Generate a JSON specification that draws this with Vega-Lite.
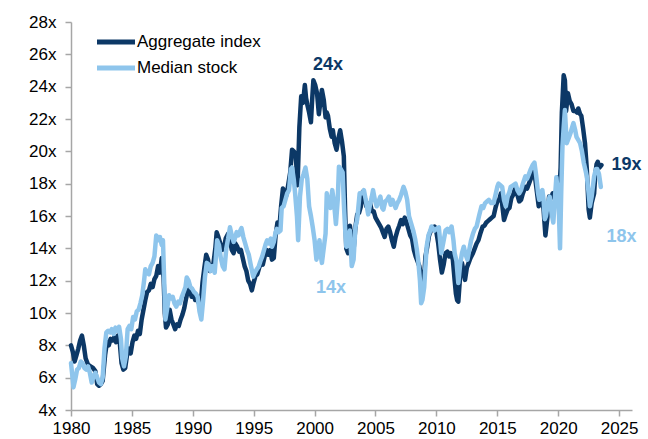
{
  "$schema": "https://vega.github.io/schema/vega-lite/v6.json",
  "width": 561,
  "height": 388,
  "autosize": {"type": "none"},
  "padding": {"left": 71, "top": 22, "right": 16, "bottom": 29},
  "background": "white",
  "config": {
    "view": {"stroke": null},
    "font": "Liberation Sans",
    "axis": {"grid": false, "labelFont": "Liberation Sans", "labelFontSize": 17, "labelColor": "#000000", "domainColor": "#A6A6A6", "tickColor": "#A6A6A6", "domainWidth": 1.5, "tickWidth": 1.5, "tickSize": 6, "title": null, "labelOverlap": false}
  },
  "datasets": {
    "pe": [
      {"year":1980.0,"series":"Aggregate index","pe":8.0},{"year":1980.15,"series":"Aggregate index","pe":7.6},{"year":1980.3,"series":"Aggregate index","pe":7.0},{"year":1980.45,"series":"Aggregate index","pe":7.4},{"year":1980.6,"series":"Aggregate index","pe":7.8},{"year":1980.75,"series":"Aggregate index","pe":8.3},{"year":1980.9,"series":"Aggregate index","pe":8.6},{"year":1981.05,"series":"Aggregate index","pe":8.0},{"year":1981.2,"series":"Aggregate index","pe":7.2},{"year":1981.4,"series":"Aggregate index","pe":6.8},{"year":1981.6,"series":"Aggregate index","pe":6.7},{"year":1981.8,"series":"Aggregate index","pe":6.6},{"year":1982.0,"series":"Aggregate index","pe":6.4},{"year":1982.15,"series":"Aggregate index","pe":5.6},{"year":1982.3,"series":"Aggregate index","pe":5.5},{"year":1982.45,"series":"Aggregate index","pe":5.6},{"year":1982.6,"series":"Aggregate index","pe":5.8},{"year":1982.8,"series":"Aggregate index","pe":7.4},{"year":1982.95,"series":"Aggregate index","pe":8.2},{"year":1983.1,"series":"Aggregate index","pe":8.0},{"year":1983.25,"series":"Aggregate index","pe":8.4},{"year":1983.4,"series":"Aggregate index","pe":8.3},{"year":1983.55,"series":"Aggregate index","pe":8.5},{"year":1983.7,"series":"Aggregate index","pe":8.2},{"year":1983.85,"series":"Aggregate index","pe":8.6},{"year":1984.0,"series":"Aggregate index","pe":8.2},{"year":1984.15,"series":"Aggregate index","pe":6.9},{"year":1984.3,"series":"Aggregate index","pe":6.5},{"year":1984.45,"series":"Aggregate index","pe":6.6},{"year":1984.6,"series":"Aggregate index","pe":7.4},{"year":1984.75,"series":"Aggregate index","pe":7.8},{"year":1984.9,"series":"Aggregate index","pe":7.5},{"year":1985.05,"series":"Aggregate index","pe":8.2},{"year":1985.2,"series":"Aggregate index","pe":8.6},{"year":1985.35,"series":"Aggregate index","pe":8.4},{"year":1985.5,"series":"Aggregate index","pe":8.9},{"year":1985.65,"series":"Aggregate index","pe":8.7},{"year":1985.8,"series":"Aggregate index","pe":9.6},{"year":1985.95,"series":"Aggregate index","pe":10.2},{"year":1986.1,"series":"Aggregate index","pe":10.8},{"year":1986.25,"series":"Aggregate index","pe":11.3},{"year":1986.4,"series":"Aggregate index","pe":11.4},{"year":1986.55,"series":"Aggregate index","pe":11.8},{"year":1986.7,"series":"Aggregate index","pe":11.6},{"year":1986.85,"series":"Aggregate index","pe":12.1},{"year":1987.0,"series":"Aggregate index","pe":12.3},{"year":1987.15,"series":"Aggregate index","pe":12.9},{"year":1987.3,"series":"Aggregate index","pe":12.5},{"year":1987.45,"series":"Aggregate index","pe":13.4},{"year":1987.6,"series":"Aggregate index","pe":12.2},{"year":1987.7,"series":"Aggregate index","pe":10.0},{"year":1987.8,"series":"Aggregate index","pe":9.1},{"year":1987.95,"series":"Aggregate index","pe":9.3},{"year":1988.1,"series":"Aggregate index","pe":10.2},{"year":1988.25,"series":"Aggregate index","pe":9.6},{"year":1988.4,"series":"Aggregate index","pe":9.3},{"year":1988.55,"series":"Aggregate index","pe":9.0},{"year":1988.7,"series":"Aggregate index","pe":9.3},{"year":1988.85,"series":"Aggregate index","pe":9.2},{"year":1989.0,"series":"Aggregate index","pe":9.6},{"year":1989.15,"series":"Aggregate index","pe":9.9},{"year":1989.3,"series":"Aggregate index","pe":10.3},{"year":1989.45,"series":"Aggregate index","pe":10.9},{"year":1989.6,"series":"Aggregate index","pe":11.4},{"year":1989.75,"series":"Aggregate index","pe":11.5},{"year":1989.9,"series":"Aggregate index","pe":11.0},{"year":1990.05,"series":"Aggregate index","pe":11.2},{"year":1990.2,"series":"Aggregate index","pe":10.8},{"year":1990.35,"series":"Aggregate index","pe":10.9},{"year":1990.5,"series":"Aggregate index","pe":10.6},{"year":1990.65,"series":"Aggregate index","pe":10.5},{"year":1990.8,"series":"Aggregate index","pe":11.9},{"year":1990.95,"series":"Aggregate index","pe":12.8},{"year":1991.1,"series":"Aggregate index","pe":13.6},{"year":1991.25,"series":"Aggregate index","pe":13.3},{"year":1991.4,"series":"Aggregate index","pe":12.6},{"year":1991.55,"series":"Aggregate index","pe":12.7},{"year":1991.7,"series":"Aggregate index","pe":13.1},{"year":1991.85,"series":"Aggregate index","pe":14.0},{"year":1991.96,"series":"Aggregate index","pe":15.0},{"year":1992.1,"series":"Aggregate index","pe":14.7},{"year":1992.25,"series":"Aggregate index","pe":14.3},{"year":1992.4,"series":"Aggregate index","pe":13.9},{"year":1992.55,"series":"Aggregate index","pe":14.0},{"year":1992.7,"series":"Aggregate index","pe":14.6},{"year":1992.9,"series":"Aggregate index","pe":14.9},{"year":1993.05,"series":"Aggregate index","pe":14.5},{"year":1993.2,"series":"Aggregate index","pe":13.9},{"year":1993.35,"series":"Aggregate index","pe":13.7},{"year":1993.5,"series":"Aggregate index","pe":14.3},{"year":1993.65,"series":"Aggregate index","pe":14.1},{"year":1993.8,"series":"Aggregate index","pe":13.8},{"year":1993.95,"series":"Aggregate index","pe":13.9},{"year":1994.1,"series":"Aggregate index","pe":13.4},{"year":1994.25,"series":"Aggregate index","pe":12.9},{"year":1994.4,"series":"Aggregate index","pe":12.6},{"year":1994.55,"series":"Aggregate index","pe":12.0},{"year":1994.7,"series":"Aggregate index","pe":11.8},{"year":1994.85,"series":"Aggregate index","pe":11.4},{"year":1995.0,"series":"Aggregate index","pe":11.9},{"year":1995.15,"series":"Aggregate index","pe":12.3},{"year":1995.3,"series":"Aggregate index","pe":12.4},{"year":1995.45,"series":"Aggregate index","pe":12.8},{"year":1995.6,"series":"Aggregate index","pe":13.1},{"year":1995.75,"series":"Aggregate index","pe":13.0},{"year":1995.9,"series":"Aggregate index","pe":13.5},{"year":1996.05,"series":"Aggregate index","pe":13.9},{"year":1996.2,"series":"Aggregate index","pe":13.6},{"year":1996.35,"series":"Aggregate index","pe":13.9},{"year":1996.5,"series":"Aggregate index","pe":13.3},{"year":1996.65,"series":"Aggregate index","pe":13.4},{"year":1996.8,"series":"Aggregate index","pe":14.8},{"year":1996.95,"series":"Aggregate index","pe":15.6},{"year":1997.1,"series":"Aggregate index","pe":15.2},{"year":1997.25,"series":"Aggregate index","pe":16.6},{"year":1997.4,"series":"Aggregate index","pe":17.7},{"year":1997.55,"series":"Aggregate index","pe":17.4},{"year":1997.7,"series":"Aggregate index","pe":17.3},{"year":1997.85,"series":"Aggregate index","pe":18.0},{"year":1998.0,"series":"Aggregate index","pe":18.7},{"year":1998.15,"series":"Aggregate index","pe":20.1},{"year":1998.3,"series":"Aggregate index","pe":20.0},{"year":1998.45,"series":"Aggregate index","pe":19.8},{"year":1998.6,"series":"Aggregate index","pe":17.9},{"year":1998.75,"series":"Aggregate index","pe":21.5},{"year":1998.9,"series":"Aggregate index","pe":23.4},{"year":1999.05,"series":"Aggregate index","pe":23.0},{"year":1999.2,"series":"Aggregate index","pe":24.1},{"year":1999.3,"series":"Aggregate index","pe":23.3},{"year":1999.4,"series":"Aggregate index","pe":22.9},{"year":1999.55,"series":"Aggregate index","pe":22.4},{"year":1999.7,"series":"Aggregate index","pe":21.8},{"year":1999.8,"series":"Aggregate index","pe":23.2},{"year":1999.9,"series":"Aggregate index","pe":24.4},{"year":2000.05,"series":"Aggregate index","pe":24.1},{"year":2000.2,"series":"Aggregate index","pe":23.6},{"year":2000.35,"series":"Aggregate index","pe":22.3},{"year":2000.5,"series":"Aggregate index","pe":23.2},{"year":2000.6,"series":"Aggregate index","pe":23.8},{"year":2000.75,"series":"Aggregate index","pe":23.2},{"year":2000.9,"series":"Aggregate index","pe":22.1},{"year":2001.0,"series":"Aggregate index","pe":22.4},{"year":2001.1,"series":"Aggregate index","pe":22.2},{"year":2001.25,"series":"Aggregate index","pe":21.4},{"year":2001.4,"series":"Aggregate index","pe":20.9},{"year":2001.5,"series":"Aggregate index","pe":21.3},{"year":2001.65,"series":"Aggregate index","pe":20.5},{"year":2001.8,"series":"Aggregate index","pe":20.1},{"year":2001.95,"series":"Aggregate index","pe":20.8},{"year":2002.1,"series":"Aggregate index","pe":21.3},{"year":2002.25,"series":"Aggregate index","pe":20.6},{"year":2002.4,"series":"Aggregate index","pe":19.7},{"year":2002.5,"series":"Aggregate index","pe":16.5},{"year":2002.6,"series":"Aggregate index","pe":14.0},{"year":2002.75,"series":"Aggregate index","pe":13.7},{"year":2002.9,"series":"Aggregate index","pe":15.4},{"year":2003.05,"series":"Aggregate index","pe":14.6},{"year":2003.2,"series":"Aggregate index","pe":13.9},{"year":2003.35,"series":"Aggregate index","pe":15.3},{"year":2003.5,"series":"Aggregate index","pe":16.1},{"year":2003.65,"series":"Aggregate index","pe":16.2},{"year":2003.8,"series":"Aggregate index","pe":16.6},{"year":2003.95,"series":"Aggregate index","pe":17.5},{"year":2004.1,"series":"Aggregate index","pe":17.2},{"year":2004.25,"series":"Aggregate index","pe":16.6},{"year":2004.4,"series":"Aggregate index","pe":16.5},{"year":2004.55,"series":"Aggregate index","pe":16.8},{"year":2004.7,"series":"Aggregate index","pe":16.3},{"year":2004.85,"series":"Aggregate index","pe":16.3},{"year":2005.0,"series":"Aggregate index","pe":15.9},{"year":2005.15,"series":"Aggregate index","pe":15.7},{"year":2005.3,"series":"Aggregate index","pe":15.5},{"year":2005.45,"series":"Aggregate index","pe":15.3},{"year":2005.6,"series":"Aggregate index","pe":15.0},{"year":2005.75,"series":"Aggregate index","pe":14.7},{"year":2005.9,"series":"Aggregate index","pe":15.2},{"year":2006.05,"series":"Aggregate index","pe":15.35},{"year":2006.2,"series":"Aggregate index","pe":15.0},{"year":2006.35,"series":"Aggregate index","pe":14.5},{"year":2006.5,"series":"Aggregate index","pe":14.1},{"year":2006.65,"series":"Aggregate index","pe":14.7},{"year":2006.8,"series":"Aggregate index","pe":15.1},{"year":2006.95,"series":"Aggregate index","pe":15.4},{"year":2007.1,"series":"Aggregate index","pe":15.75},{"year":2007.25,"series":"Aggregate index","pe":15.5},{"year":2007.4,"series":"Aggregate index","pe":15.9},{"year":2007.55,"series":"Aggregate index","pe":15.6},{"year":2007.7,"series":"Aggregate index","pe":15.2},{"year":2007.85,"series":"Aggregate index","pe":14.8},{"year":2008.0,"series":"Aggregate index","pe":14.6},{"year":2008.15,"series":"Aggregate index","pe":13.9},{"year":2008.3,"series":"Aggregate index","pe":13.5},{"year":2008.45,"series":"Aggregate index","pe":13.2},{"year":2008.6,"series":"Aggregate index","pe":12.9},{"year":2008.7,"series":"Aggregate index","pe":12.4},{"year":2008.8,"series":"Aggregate index","pe":11.6},{"year":2008.9,"series":"Aggregate index","pe":11.65},{"year":2009.0,"series":"Aggregate index","pe":12.3},{"year":2009.1,"series":"Aggregate index","pe":13.5},{"year":2009.25,"series":"Aggregate index","pe":14.1},{"year":2009.4,"series":"Aggregate index","pe":14.8},{"year":2009.55,"series":"Aggregate index","pe":15.1},{"year":2009.7,"series":"Aggregate index","pe":15.2},{"year":2009.85,"series":"Aggregate index","pe":15.35},{"year":2010.0,"series":"Aggregate index","pe":15.0},{"year":2010.15,"series":"Aggregate index","pe":14.3},{"year":2010.3,"series":"Aggregate index","pe":13.3},{"year":2010.45,"series":"Aggregate index","pe":12.5},{"year":2010.6,"series":"Aggregate index","pe":13.0},{"year":2010.75,"series":"Aggregate index","pe":13.7},{"year":2010.9,"series":"Aggregate index","pe":13.8},{"year":2011.05,"series":"Aggregate index","pe":13.5},{"year":2011.2,"series":"Aggregate index","pe":13.7},{"year":2011.35,"series":"Aggregate index","pe":13.3},{"year":2011.5,"series":"Aggregate index","pe":12.0},{"year":2011.6,"series":"Aggregate index","pe":11.2},{"year":2011.7,"series":"Aggregate index","pe":10.8},{"year":2011.8,"series":"Aggregate index","pe":10.7},{"year":2011.95,"series":"Aggregate index","pe":12.3},{"year":2012.1,"series":"Aggregate index","pe":13.1},{"year":2012.25,"series":"Aggregate index","pe":12.5},{"year":2012.35,"series":"Aggregate index","pe":12.05},{"year":2012.5,"series":"Aggregate index","pe":12.8},{"year":2012.65,"series":"Aggregate index","pe":13.1},{"year":2012.8,"series":"Aggregate index","pe":13.4},{"year":2013.0,"series":"Aggregate index","pe":13.7},{"year":2013.15,"series":"Aggregate index","pe":14.0},{"year":2013.3,"series":"Aggregate index","pe":14.3},{"year":2013.45,"series":"Aggregate index","pe":14.5},{"year":2013.6,"series":"Aggregate index","pe":14.9},{"year":2013.8,"series":"Aggregate index","pe":15.35},{"year":2013.95,"series":"Aggregate index","pe":15.4},{"year":2014.1,"series":"Aggregate index","pe":15.6},{"year":2014.25,"series":"Aggregate index","pe":15.7},{"year":2014.4,"series":"Aggregate index","pe":15.8},{"year":2014.55,"series":"Aggregate index","pe":15.9},{"year":2014.7,"series":"Aggregate index","pe":16.0},{"year":2014.85,"series":"Aggregate index","pe":16.5},{"year":2015.0,"series":"Aggregate index","pe":16.9},{"year":2015.15,"series":"Aggregate index","pe":17.0},{"year":2015.3,"series":"Aggregate index","pe":17.4},{"year":2015.45,"series":"Aggregate index","pe":16.4},{"year":2015.55,"series":"Aggregate index","pe":15.75},{"year":2015.7,"series":"Aggregate index","pe":16.1},{"year":2015.85,"series":"Aggregate index","pe":16.4},{"year":2016.0,"series":"Aggregate index","pe":16.5},{"year":2016.15,"series":"Aggregate index","pe":17.1},{"year":2016.3,"series":"Aggregate index","pe":17.3},{"year":2016.5,"series":"Aggregate index","pe":17.8},{"year":2016.65,"series":"Aggregate index","pe":17.3},{"year":2016.8,"series":"Aggregate index","pe":16.9},{"year":2016.95,"series":"Aggregate index","pe":17.0},{"year":2017.1,"series":"Aggregate index","pe":17.4},{"year":2017.3,"series":"Aggregate index","pe":17.8},{"year":2017.45,"series":"Aggregate index","pe":17.7},{"year":2017.6,"series":"Aggregate index","pe":18.0},{"year":2017.75,"series":"Aggregate index","pe":18.3},{"year":2017.95,"series":"Aggregate index","pe":19.0},{"year":2018.1,"series":"Aggregate index","pe":18.4},{"year":2018.25,"series":"Aggregate index","pe":17.5},{"year":2018.4,"series":"Aggregate index","pe":16.6},{"year":2018.55,"series":"Aggregate index","pe":17.3},{"year":2018.7,"series":"Aggregate index","pe":17.0},{"year":2018.8,"series":"Aggregate index","pe":16.4},{"year":2018.95,"series":"Aggregate index","pe":14.8},{"year":2019.1,"series":"Aggregate index","pe":15.8},{"year":2019.25,"series":"Aggregate index","pe":17.2},{"year":2019.4,"series":"Aggregate index","pe":17.1},{"year":2019.55,"series":"Aggregate index","pe":17.4},{"year":2019.7,"series":"Aggregate index","pe":17.3},{"year":2019.85,"series":"Aggregate index","pe":17.6},{"year":2020.0,"series":"Aggregate index","pe":18.4},{"year":2020.1,"series":"Aggregate index","pe":17.6},{"year":2020.2,"series":"Aggregate index","pe":19.0},{"year":2020.3,"series":"Aggregate index","pe":22.4},{"year":2020.45,"series":"Aggregate index","pe":24.7},{"year":2020.55,"series":"Aggregate index","pe":24.4},{"year":2020.65,"series":"Aggregate index","pe":22.5},{"year":2020.8,"series":"Aggregate index","pe":23.6},{"year":2020.95,"series":"Aggregate index","pe":23.1},{"year":2021.1,"series":"Aggregate index","pe":22.9},{"year":2021.25,"series":"Aggregate index","pe":22.5},{"year":2021.4,"series":"Aggregate index","pe":22.5},{"year":2021.55,"series":"Aggregate index","pe":22.4},{"year":2021.65,"series":"Aggregate index","pe":22.65},{"year":2021.8,"series":"Aggregate index","pe":22.3},{"year":2021.9,"series":"Aggregate index","pe":22.2},{"year":2022.05,"series":"Aggregate index","pe":21.4},{"year":2022.2,"series":"Aggregate index","pe":20.5},{"year":2022.35,"series":"Aggregate index","pe":18.9},{"year":2022.5,"series":"Aggregate index","pe":16.4},{"year":2022.6,"series":"Aggregate index","pe":15.9},{"year":2022.75,"series":"Aggregate index","pe":16.8},{"year":2022.95,"series":"Aggregate index","pe":17.4},{"year":2023.05,"series":"Aggregate index","pe":18.6},{"year":2023.15,"series":"Aggregate index","pe":19.2},{"year":2023.25,"series":"Aggregate index","pe":19.35},{"year":2023.4,"series":"Aggregate index","pe":19.0},{"year":2023.55,"series":"Aggregate index","pe":19.15},
      {"year":1980.0,"series":"Median stock","pe":6.9},{"year":1980.1,"series":"Median stock","pe":6.2},{"year":1980.2,"series":"Median stock","pe":5.4},{"year":1980.35,"series":"Median stock","pe":5.9},{"year":1980.5,"series":"Median stock","pe":6.5},{"year":1980.65,"series":"Median stock","pe":6.6},{"year":1980.8,"series":"Median stock","pe":7.0},{"year":1980.95,"series":"Median stock","pe":6.9},{"year":1981.1,"series":"Median stock","pe":6.6},{"year":1981.25,"series":"Median stock","pe":6.5},{"year":1981.4,"series":"Median stock","pe":6.7},{"year":1981.55,"series":"Median stock","pe":6.3},{"year":1981.7,"series":"Median stock","pe":5.7},{"year":1981.85,"series":"Median stock","pe":6.1},{"year":1982.0,"series":"Median stock","pe":6.3},{"year":1982.15,"series":"Median stock","pe":6.0},{"year":1982.3,"series":"Median stock","pe":5.7},{"year":1982.45,"series":"Median stock","pe":5.6},{"year":1982.6,"series":"Median stock","pe":6.0},{"year":1982.75,"series":"Median stock","pe":7.8},{"year":1982.9,"series":"Median stock","pe":8.8},{"year":1983.05,"series":"Median stock","pe":8.9},{"year":1983.2,"series":"Median stock","pe":8.8},{"year":1983.35,"series":"Median stock","pe":9.0},{"year":1983.5,"series":"Median stock","pe":8.7},{"year":1983.65,"series":"Median stock","pe":9.1},{"year":1983.8,"series":"Median stock","pe":8.9},{"year":1983.95,"series":"Median stock","pe":9.15},{"year":1984.1,"series":"Median stock","pe":8.4},{"year":1984.2,"series":"Median stock","pe":7.2},{"year":1984.35,"series":"Median stock","pe":6.7},{"year":1984.5,"series":"Median stock","pe":7.3},{"year":1984.65,"series":"Median stock","pe":9.0},{"year":1984.8,"series":"Median stock","pe":9.2},{"year":1984.95,"series":"Median stock","pe":9.0},{"year":1985.1,"series":"Median stock","pe":9.75},{"year":1985.25,"series":"Median stock","pe":9.6},{"year":1985.4,"series":"Median stock","pe":10.1},{"year":1985.55,"series":"Median stock","pe":10.2},{"year":1985.7,"series":"Median stock","pe":10.6},{"year":1985.85,"series":"Median stock","pe":11.1},{"year":1986.0,"series":"Median stock","pe":12.0},{"year":1986.1,"series":"Median stock","pe":12.7},{"year":1986.25,"series":"Median stock","pe":12.5},{"year":1986.4,"series":"Median stock","pe":12.4},{"year":1986.55,"series":"Median stock","pe":12.9},{"year":1986.7,"series":"Median stock","pe":13.1},{"year":1986.85,"series":"Median stock","pe":13.5},{"year":1987.0,"series":"Median stock","pe":14.8},{"year":1987.15,"series":"Median stock","pe":14.5},{"year":1987.3,"series":"Median stock","pe":14.7},{"year":1987.45,"series":"Median stock","pe":14.2},{"year":1987.55,"series":"Median stock","pe":14.5},{"year":1987.65,"series":"Median stock","pe":12.0},{"year":1987.75,"series":"Median stock","pe":9.6},{"year":1987.9,"series":"Median stock","pe":10.3},{"year":1988.05,"series":"Median stock","pe":11.1},{"year":1988.2,"series":"Median stock","pe":10.9},{"year":1988.35,"series":"Median stock","pe":11.0},{"year":1988.5,"series":"Median stock","pe":10.6},{"year":1988.65,"series":"Median stock","pe":10.4},{"year":1988.8,"series":"Median stock","pe":10.7},{"year":1988.95,"series":"Median stock","pe":10.6},{"year":1989.1,"series":"Median stock","pe":11.0},{"year":1989.25,"series":"Median stock","pe":11.3},{"year":1989.4,"series":"Median stock","pe":11.6},{"year":1989.5,"series":"Median stock","pe":12.2},{"year":1989.65,"series":"Median stock","pe":12.0},{"year":1989.8,"series":"Median stock","pe":11.6},{"year":1989.95,"series":"Median stock","pe":11.5},{"year":1990.1,"series":"Median stock","pe":11.3},{"year":1990.25,"series":"Median stock","pe":11.2},{"year":1990.4,"series":"Median stock","pe":11.0},{"year":1990.55,"series":"Median stock","pe":10.1},{"year":1990.7,"series":"Median stock","pe":9.6},{"year":1990.85,"series":"Median stock","pe":10.8},{"year":1991.0,"series":"Median stock","pe":12.25},{"year":1991.15,"series":"Median stock","pe":13.1},{"year":1991.3,"series":"Median stock","pe":13.0},{"year":1991.45,"series":"Median stock","pe":12.6},{"year":1991.6,"series":"Median stock","pe":12.9},{"year":1991.8,"series":"Median stock","pe":12.5},{"year":1992.0,"series":"Median stock","pe":14.5},{"year":1992.15,"series":"Median stock","pe":14.2},{"year":1992.3,"series":"Median stock","pe":13.4},{"year":1992.45,"series":"Median stock","pe":12.9},{"year":1992.6,"series":"Median stock","pe":12.7},{"year":1992.75,"series":"Median stock","pe":14.0},{"year":1992.9,"series":"Median stock","pe":14.6},{"year":1993.05,"series":"Median stock","pe":15.3},{"year":1993.2,"series":"Median stock","pe":14.8},{"year":1993.35,"series":"Median stock","pe":14.4},{"year":1993.45,"series":"Median stock","pe":14.6},{"year":1993.6,"series":"Median stock","pe":15.0},{"year":1993.75,"series":"Median stock","pe":14.8},{"year":1993.9,"series":"Median stock","pe":15.1},{"year":1994.0,"series":"Median stock","pe":15.25},{"year":1994.15,"series":"Median stock","pe":14.7},{"year":1994.3,"series":"Median stock","pe":14.3},{"year":1994.45,"series":"Median stock","pe":13.9},{"year":1994.6,"series":"Median stock","pe":13.6},{"year":1994.75,"series":"Median stock","pe":13.0},{"year":1994.96,"series":"Median stock","pe":12.25},{"year":1995.1,"series":"Median stock","pe":12.5},{"year":1995.25,"series":"Median stock","pe":12.7},{"year":1995.4,"series":"Median stock","pe":12.85},{"year":1995.55,"series":"Median stock","pe":13.2},{"year":1995.7,"series":"Median stock","pe":13.5},{"year":1995.85,"series":"Median stock","pe":13.9},{"year":1996.0,"series":"Median stock","pe":14.3},{"year":1996.1,"series":"Median stock","pe":14.5},{"year":1996.25,"series":"Median stock","pe":14.3},{"year":1996.4,"series":"Median stock","pe":14.6},{"year":1996.5,"series":"Median stock","pe":14.1},{"year":1996.65,"series":"Median stock","pe":14.4},{"year":1996.8,"series":"Median stock","pe":15.0},{"year":1996.9,"series":"Median stock","pe":15.2},{"year":1997.05,"series":"Median stock","pe":15.0},{"year":1997.2,"series":"Median stock","pe":15.1},{"year":1997.3,"series":"Median stock","pe":16.5},{"year":1997.45,"series":"Median stock","pe":16.6},{"year":1997.6,"series":"Median stock","pe":17.0},{"year":1997.75,"series":"Median stock","pe":17.4},{"year":1997.9,"series":"Median stock","pe":17.6},{"year":1998.05,"series":"Median stock","pe":18.9},{"year":1998.15,"series":"Median stock","pe":19.0},{"year":1998.3,"series":"Median stock","pe":18.2},{"year":1998.4,"series":"Median stock","pe":17.4},{"year":1998.55,"series":"Median stock","pe":16.0},{"year":1998.65,"series":"Median stock","pe":14.5},{"year":1998.8,"series":"Median stock","pe":17.2},{"year":1998.95,"series":"Median stock","pe":18.3},{"year":1999.1,"series":"Median stock","pe":18.6},{"year":1999.25,"series":"Median stock","pe":19.0},{"year":1999.4,"series":"Median stock","pe":18.3},{"year":1999.55,"series":"Median stock","pe":16.6},{"year":1999.7,"series":"Median stock","pe":16.0},{"year":1999.85,"series":"Median stock","pe":15.3},{"year":2000.0,"series":"Median stock","pe":14.5},{"year":2000.15,"series":"Median stock","pe":13.3},{"year":2000.3,"series":"Median stock","pe":14.0},{"year":2000.4,"series":"Median stock","pe":14.5},{"year":2000.5,"series":"Median stock","pe":13.6},{"year":2000.6,"series":"Median stock","pe":13.1},{"year":2000.75,"series":"Median stock","pe":14.0},{"year":2000.9,"series":"Median stock","pe":14.9},{"year":2001.0,"series":"Median stock","pe":17.4},{"year":2001.15,"series":"Median stock","pe":16.8},{"year":2001.3,"series":"Median stock","pe":16.5},{"year":2001.45,"series":"Median stock","pe":17.6},{"year":2001.6,"series":"Median stock","pe":16.8},{"year":2001.75,"series":"Median stock","pe":15.5},{"year":2001.9,"series":"Median stock","pe":17.0},{"year":2002.0,"series":"Median stock","pe":19.05},{"year":2002.15,"series":"Median stock","pe":18.9},{"year":2002.3,"series":"Median stock","pe":18.7},{"year":2002.4,"series":"Median stock","pe":16.8},{"year":2002.5,"series":"Median stock","pe":15.3},{"year":2002.6,"series":"Median stock","pe":14.1},{"year":2002.75,"series":"Median stock","pe":14.2},{"year":2002.9,"series":"Median stock","pe":15.1},{"year":2003.05,"series":"Median stock","pe":12.9},{"year":2003.2,"series":"Median stock","pe":13.3},{"year":2003.35,"series":"Median stock","pe":15.3},{"year":2003.5,"series":"Median stock","pe":15.8},{"year":2003.7,"series":"Median stock","pe":17.4},{"year":2003.9,"series":"Median stock","pe":17.4},{"year":2004.05,"series":"Median stock","pe":17.6},{"year":2004.2,"series":"Median stock","pe":17.0},{"year":2004.4,"series":"Median stock","pe":16.1},{"year":2004.55,"series":"Median stock","pe":16.7},{"year":2004.7,"series":"Median stock","pe":17.2},{"year":2004.8,"series":"Median stock","pe":17.6},{"year":2004.95,"series":"Median stock","pe":17.0},{"year":2005.1,"series":"Median stock","pe":16.6},{"year":2005.25,"series":"Median stock","pe":16.9},{"year":2005.4,"series":"Median stock","pe":17.2},{"year":2005.55,"series":"Median stock","pe":16.5},{"year":2005.65,"series":"Median stock","pe":16.4},{"year":2005.8,"series":"Median stock","pe":16.9},{"year":2005.95,"series":"Median stock","pe":17.0},{"year":2006.1,"series":"Median stock","pe":17.2},{"year":2006.25,"series":"Median stock","pe":16.7},{"year":2006.4,"series":"Median stock","pe":17.0},{"year":2006.5,"series":"Median stock","pe":16.8},{"year":2006.65,"series":"Median stock","pe":16.5},{"year":2006.8,"series":"Median stock","pe":16.8},{"year":2006.95,"series":"Median stock","pe":17.0},{"year":2007.1,"series":"Median stock","pe":17.3},{"year":2007.3,"series":"Median stock","pe":17.8},{"year":2007.45,"series":"Median stock","pe":17.5},{"year":2007.6,"series":"Median stock","pe":17.0},{"year":2007.75,"series":"Median stock","pe":16.0},{"year":2007.9,"series":"Median stock","pe":15.6},{"year":2008.1,"series":"Median stock","pe":15.1},{"year":2008.25,"series":"Median stock","pe":14.6},{"year":2008.4,"series":"Median stock","pe":13.9},{"year":2008.5,"series":"Median stock","pe":13.3},{"year":2008.65,"series":"Median stock","pe":12.0},{"year":2008.75,"series":"Median stock","pe":10.6},{"year":2008.85,"series":"Median stock","pe":10.8},{"year":2009.0,"series":"Median stock","pe":11.6},{"year":2009.1,"series":"Median stock","pe":12.9},{"year":2009.2,"series":"Median stock","pe":14.1},{"year":2009.35,"series":"Median stock","pe":14.8},{"year":2009.5,"series":"Median stock","pe":15.1},{"year":2009.6,"series":"Median stock","pe":15.35},{"year":2009.75,"series":"Median stock","pe":15.2},{"year":2009.85,"series":"Median stock","pe":15.1},{"year":2010.0,"series":"Median stock","pe":15.2},{"year":2010.2,"series":"Median stock","pe":15.3},{"year":2010.3,"series":"Median stock","pe":14.5},{"year":2010.4,"series":"Median stock","pe":13.7},{"year":2010.55,"series":"Median stock","pe":14.3},{"year":2010.75,"series":"Median stock","pe":15.1},{"year":2010.9,"series":"Median stock","pe":15.2},{"year":2011.05,"series":"Median stock","pe":15.0},{"year":2011.25,"series":"Median stock","pe":15.35},{"year":2011.4,"series":"Median stock","pe":14.5},{"year":2011.5,"series":"Median stock","pe":13.7},{"year":2011.65,"series":"Median stock","pe":13.2},{"year":2011.8,"series":"Median stock","pe":11.85},{"year":2011.95,"series":"Median stock","pe":13.0},{"year":2012.1,"series":"Median stock","pe":13.7},{"year":2012.25,"series":"Median stock","pe":14.1},{"year":2012.4,"series":"Median stock","pe":13.6},{"year":2012.55,"series":"Median stock","pe":13.3},{"year":2012.7,"series":"Median stock","pe":13.9},{"year":2012.85,"series":"Median stock","pe":14.5},{"year":2013.0,"series":"Median stock","pe":14.9},{"year":2013.15,"series":"Median stock","pe":15.2},{"year":2013.3,"series":"Median stock","pe":15.35},{"year":2013.5,"series":"Median stock","pe":16.0},{"year":2013.7,"series":"Median stock","pe":16.6},{"year":2013.85,"series":"Median stock","pe":16.5},{"year":2014.0,"series":"Median stock","pe":16.8},{"year":2014.15,"series":"Median stock","pe":16.9},{"year":2014.3,"series":"Median stock","pe":17.0},{"year":2014.5,"series":"Median stock","pe":16.8},{"year":2014.7,"series":"Median stock","pe":16.8},{"year":2014.85,"series":"Median stock","pe":17.3},{"year":2015.0,"series":"Median stock","pe":17.8},{"year":2015.1,"series":"Median stock","pe":18.0},{"year":2015.25,"series":"Median stock","pe":17.9},{"year":2015.4,"series":"Median stock","pe":17.8},{"year":2015.55,"series":"Median stock","pe":17.0},{"year":2015.7,"series":"Median stock","pe":16.6},{"year":2015.85,"series":"Median stock","pe":17.2},{"year":2016.0,"series":"Median stock","pe":17.5},{"year":2016.1,"series":"Median stock","pe":17.8},{"year":2016.3,"series":"Median stock","pe":17.9},{"year":2016.5,"series":"Median stock","pe":18.0},{"year":2016.65,"series":"Median stock","pe":17.6},{"year":2016.8,"series":"Median stock","pe":17.4},{"year":2016.95,"series":"Median stock","pe":17.6},{"year":2017.1,"series":"Median stock","pe":18.0},{"year":2017.3,"series":"Median stock","pe":18.45},{"year":2017.45,"series":"Median stock","pe":18.3},{"year":2017.6,"series":"Median stock","pe":18.6},{"year":2017.75,"series":"Median stock","pe":18.9},{"year":2017.9,"series":"Median stock","pe":19.15},{"year":2018.05,"series":"Median stock","pe":19.3},{"year":2018.2,"series":"Median stock","pe":18.45},{"year":2018.35,"series":"Median stock","pe":17.4},{"year":2018.45,"series":"Median stock","pe":17.0},{"year":2018.6,"series":"Median stock","pe":17.5},{"year":2018.7,"series":"Median stock","pe":17.6},{"year":2018.8,"series":"Median stock","pe":17.0},{"year":2018.9,"series":"Median stock","pe":15.8},{"year":2019.0,"series":"Median stock","pe":16.0},{"year":2019.15,"series":"Median stock","pe":16.8},{"year":2019.3,"series":"Median stock","pe":17.2},{"year":2019.45,"series":"Median stock","pe":16.2},{"year":2019.6,"series":"Median stock","pe":15.6},{"year":2019.75,"series":"Median stock","pe":17.3},{"year":2019.85,"series":"Median stock","pe":18.4},{"year":2019.95,"series":"Median stock","pe":17.6},{"year":2020.05,"series":"Median stock","pe":16.5},{"year":2020.15,"series":"Median stock","pe":14.0},{"year":2020.25,"series":"Median stock","pe":17.5},{"year":2020.35,"series":"Median stock","pe":20.3},{"year":2020.45,"series":"Median stock","pe":21.5},{"year":2020.55,"series":"Median stock","pe":22.55},{"year":2020.7,"series":"Median stock","pe":20.5},{"year":2020.85,"series":"Median stock","pe":20.8},{"year":2021.0,"series":"Median stock","pe":21.1},{"year":2021.15,"series":"Median stock","pe":21.5},{"year":2021.25,"series":"Median stock","pe":21.75},{"year":2021.4,"series":"Median stock","pe":21.3},{"year":2021.5,"series":"Median stock","pe":20.9},{"year":2021.65,"series":"Median stock","pe":20.7},{"year":2021.8,"series":"Median stock","pe":20.5},{"year":2021.95,"series":"Median stock","pe":20.0},{"year":2022.1,"series":"Median stock","pe":19.3},{"year":2022.25,"series":"Median stock","pe":18.8},{"year":2022.35,"series":"Median stock","pe":18.45},{"year":2022.5,"series":"Median stock","pe":17.4},{"year":2022.6,"series":"Median stock","pe":16.6},{"year":2022.75,"series":"Median stock","pe":17.2},{"year":2022.95,"series":"Median stock","pe":18.45},{"year":2023.1,"series":"Median stock","pe":18.9},{"year":2023.2,"series":"Median stock","pe":18.9},{"year":2023.35,"series":"Median stock","pe":18.6},{"year":2023.5,"series":"Median stock","pe":17.8}
    ],
    "labels": [
      {"year":2001.1,"pe":25.34,"label":"24x","series":"Aggregate index"},
      {"year":2025.6,"pe":19.16,"label":"19x","series":"Aggregate index"},
      {"year":2025.2,"pe":14.73,"label":"18x","series":"Median stock"},
      {"year":2001.35,"pe":11.55,"label":"14x","series":"Median stock"}
    ]
  },
  "layer": [
    {
      "data": {"name": "pe"},
      "mark": {"type": "line", "strokeWidth": 4.5, "strokeJoin": "round", "strokeCap": "round"},
      "encoding": {
        "x": {"field": "year", "type": "quantitative", "scale": {"domain": [1980, 2026.06], "nice": false, "zero": false},
              "axis": {"values": [1980,1985,1990,1995,2000,2005,2010,2015,2020,2025], "format": "d", "labelPadding": 4, "labelFlush": false, "labelOverlap": false}},
        "y": {"field": "pe", "type": "quantitative", "scale": {"domain": [4, 28], "nice": false, "zero": false},
              "axis": {"values": [4,6,8,10,12,14,16,18,20,22,24,26,28], "tickCount": 13, "labelExpr": "datum.value + 'x'", "labelPadding": 9, "labelOverlap": false, "labelBound": false, "labelFlush": false}},
        "color": {"field": "series", "type": "nominal",
                  "scale": {"domain": ["Aggregate index", "Median stock"], "range": ["#0C3866", "#8EC5EC"]},
                  "legend": {"title": null, "orient": "none", "legendX": 33, "legendY": 8, "symbolType": "M-2,0H2", "symbolSize": 361, "symbolStrokeWidth": 5, "labelFontSize": 17, "labelFont": "Liberation Sans", "labelColor": "#000000", "labelOffset": 9, "rowPadding": 4, "padding": 0}}
      }
    },
    {
      "data": {"name": "labels"},
      "transform": [{"filter": "datum.series === 'Aggregate index'"}],
      "mark": {"type": "text", "fontWeight": "bold", "fontSize": 18, "font": "Liberation Sans", "color": "#0C3866", "align": "center", "baseline": "middle"},
      "encoding": {
        "x": {"field": "year", "type": "quantitative"},
        "y": {"field": "pe", "type": "quantitative"},
        "text": {"field": "label"}
      }
    },
    {
      "data": {"name": "labels"},
      "transform": [{"filter": "datum.series === 'Median stock'"}],
      "mark": {"type": "text", "fontWeight": "bold", "fontSize": 18, "font": "Liberation Sans", "color": "#8EC5EC", "align": "center", "baseline": "middle"},
      "encoding": {
        "x": {"field": "year", "type": "quantitative"},
        "y": {"field": "pe", "type": "quantitative"},
        "text": {"field": "label"}
      }
    }
  ]
}
